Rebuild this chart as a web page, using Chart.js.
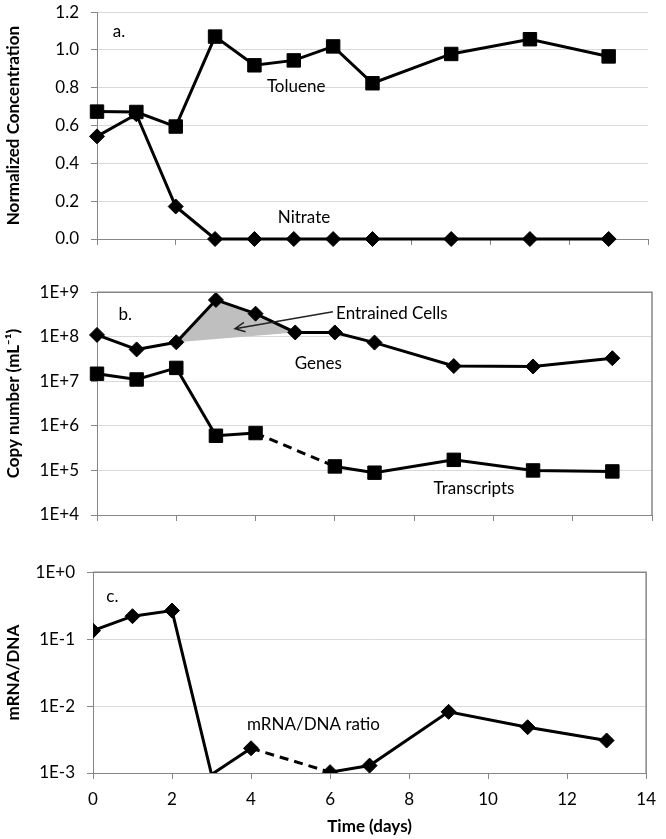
<!DOCTYPE html>
<html>
<head>
<meta charset="utf-8">
<script src="https://cdn.jsdelivr.net/npm/chart.js@4.4.1/dist/chart.umd.min.js"></script>
<style>
  html, body { margin: 0; padding: 0; background: #fff; overflow: hidden; }
  #wrap { position: relative; width: 666px; height: 839px; }
  canvas { position: absolute; left: 0; }
</style>
</head>
<body>
<div id="wrap">
  <canvas id="chartA" width="666" height="290" style="top:-10px"></canvas>
  <canvas id="chartB" width="666" height="280" style="top:270px"></canvas>
  <canvas id="chartC" width="666" height="289" style="top:550px"></canvas>
</div>
<script>
// sampling days
const days = [0, 1, 2, 3, 4, 5, 6, 7, 9, 11, 13];
const transcriptDays = [0, 1, 2, 3, 4, 6, 7, 9, 11, 13];

// a. normalized concentration
const toluene = [0.674, 0.672, 0.595, 1.071, 0.919, 0.945, 1.019, 0.824, 0.979, 1.057, 0.966];
const nitrate = [0.543, 0.66, 0.172, 0, 0, 0, 0, 0, 0, 0, 0];

// b. copy numbers (per mL)
const genes = [1.1e8, 5.2e7, 7.5e7, 6.7e8, 3.3e8, 1.25e8, 1.25e8, 7.4e7, 2.2e7, 2.15e7, 3.3e7];
const transcripts = [1.48e7, 1.1e7, 2.0e7, 6.0e5, 6.9e5, 1.23e5, 8.9e4, 1.73e5, 1.0e5, 9.5e4];
const entrainedDays = [2, 3, 4, 5];
const entrainedBaseDays = [2, 5];

// c. mRNA/DNA ratio
const ratio = [0.134, 0.22, 0.267, 0.00095, 0.00234, 0.00103, 0.00129, 0.0082, 0.00483, 0.00306];

// ticks
const xTicks = [0, 2, 4, 6, 8, 10, 12, 14];
const concTicks = [0, 0.2, 0.4, 0.6, 0.8, 1.0, 1.2];
const copyTicks = [1e4, 1e5, 1e6, 1e7, 1e8, 1e9];
const copyTickLabels = ['1E+4', '1E+5', '1E+6', '1E+7', '1E+8', '1E+9'];
const ratioTicks = [1e-3, 1e-2, 1e-1, 1];
const ratioTickLabels = ['1E-3', '1E-2', '1E-1', '1E+0'];

const FONT = 'Lato';
const AXIS = '#868686';
const GRID = '#d9d9d9';

const pts = (xs, ys) => xs.map((d, i) => ({x: d, y: ys[i]}));
const pick = (sel) => sel.map(d => ({x: d, y: genes[days.indexOf(d)]}));

const dashGap = {
  borderDash: ctx => (ctx.p0.parsed.x === 4 && ctx.p1.parsed.x === 6) ? [9, 6] : undefined
};

function line(data, style) {
  return {
    data: data,
    borderColor: '#000',
    backgroundColor: '#000',
    borderWidth: 3,
    pointStyle: style,
    pointRadius: style === 'rect' ? 9.5 : 7.5,
    pointHoverRadius: style === 'rect' ? 9.5 : 7.5,
    pointBackgroundColor: '#000',
    pointBorderColor: '#000',
    pointBorderWidth: 1,
    tension: 0,
    clip: false,
    fill: false
  };
}

function xScale(showLabels, height) {
  return {
    type: 'linear', min: 0, max: 14,
    afterBuildTicks: s => { s.ticks = xTicks.map(v => ({value: v})); },
    afterFit: s => { s.height = height; },
    grid: {drawOnChartArea: false, drawTicks: true, tickLength: 6, color: AXIS},
    border: {color: AXIS, width: 1},
    ticks: {display: showLabels, padding: 10, color: '#000', font: {family: FONT, size: 17}},
    title: {
      display: showLabels, text: 'Time (days)', color: '#000',
      font: {family: FONT, size: 17, weight: 'bold'}, padding: {top: 0, bottom: 2}
    }
  };
}

function yScale(width, title, extra) {
  return Object.assign({
    afterFit: s => { s.width = width; },
    grid: {color: GRID, tickColor: AXIS, tickLength: 6, drawTicks: true},
    border: {color: AXIS, width: 1},
    ticks: {padding: 12, color: '#000', font: {family: FONT, size: 17}},
    title: {
      display: true, text: title, color: '#000',
      font: {family: FONT, size: 17, weight: 'bold'}, padding: {top: 3, bottom: 0}
    }
  }, extra);
}

const notes = {
  id: 'notes',
  afterDatasetsDraw(chart, args, opts) {
    const {ctx, scales: {x, y}} = chart;
    ctx.save();
    ctx.font = '17px ' + FONT;
    ctx.fillStyle = '#000';
    ctx.textBaseline = 'middle';
    (opts.labels || []).forEach(l => {
      ctx.textAlign = l.align || 'center';
      ctx.fillText(l.text, x.getPixelForValue(l.x), y.getPixelForValue(l.y));
    });
    (opts.arrows || []).forEach(a => {
      const x0 = x.getPixelForValue(a.from[0]), y0 = y.getPixelForValue(a.from[1]);
      const x1 = x.getPixelForValue(a.to[0]), y1 = y.getPixelForValue(a.to[1]);
      const ang = Math.atan2(y1 - y0, x1 - x0);
      ctx.strokeStyle = '#222';
      ctx.lineWidth = 1.5;
      ctx.beginPath();
      ctx.moveTo(x0, y0);
      ctx.lineTo(x1, y1);
      ctx.moveTo(x1 - 11 * Math.cos(ang - 0.45), y1 - 11 * Math.sin(ang - 0.45));
      ctx.lineTo(x1, y1);
      ctx.lineTo(x1 - 11 * Math.cos(ang + 0.45), y1 - 11 * Math.sin(ang + 0.45));
      ctx.stroke();
    });
    if (opts.box) {
      const {top, right, bottom, left} = chart.chartArea;
      ctx.strokeStyle = AXIS;
      ctx.lineWidth = 1.5;
      ctx.beginPath();
      ctx.moveTo(left, top);
      ctx.lineTo(right, top);
      ctx.lineTo(right, bottom);
      ctx.stroke();
    }
    ctx.restore();
  }
};

// a.
const yA = yScale(97, 'Normalized Concentration', {
  min: 0, max: 1.2,
  afterBuildTicks: s => { s.ticks = concTicks.map(v => ({value: v})); }
});
yA.ticks.callback = v => v.toFixed(1);

new Chart(document.getElementById('chartA'), {
  type: 'line',
  data: {
    datasets: [
      line(pts(days, toluene), 'rect'),
      line(pts(days, nitrate), 'rectRot')
    ]
  },
  options: {
    responsive: false, animation: false,
    layout: {padding: {top: 17, right: 18, bottom: 0, left: 0}},
    scales: {x: xScale(false, 41), y: yA},
    plugins: {
      legend: {display: false}, tooltip: {enabled: false},
      notes: {labels: [
        {text: 'a.', x: 0.56, y: 1.1},
        {text: 'Toluene', x: 5.06, y: 0.807},
        {text: 'Nitrate', x: 5.26, y: 0.114}
      ]}
    }
  },
  plugins: [notes]
});

// b.
const yB = yScale(97, 'Copy number (mL⁻¹)', {
  type: 'logarithmic', min: 1e4, max: 1e9,
  afterBuildTicks: s => { s.ticks = copyTicks.map(v => ({value: v})); }
});
yB.ticks.callback = v => copyTickLabels[copyTicks.indexOf(v)];

new Chart(document.getElementById('chartB'), {
  type: 'line',
  data: {
    datasets: [
      line(pts(days, genes), 'rectRot'),
      Object.assign(line(pts(transcriptDays, transcripts), 'rect'), {segment: dashGap}),
      {
        data: pick(entrainedDays), borderWidth: 0, pointRadius: 0, pointHoverRadius: 0,
        backgroundColor: '#bfbfbf', fill: 3
      },
      {
        data: pick(entrainedBaseDays), borderWidth: 0, pointRadius: 0, pointHoverRadius: 0,
        fill: false
      }
    ]
  },
  options: {
    responsive: false, animation: false,
    layout: {padding: {top: 20, right: 14, bottom: 0, left: 0}},
    scales: {x: xScale(false, 35), y: yB},
    plugins: {
      legend: {display: false}, tooltip: {enabled: false},
      notes: {
        box: true,
        labels: [
          {text: 'b.', x: 0.71, y: Math.pow(10, 8.51)},
          {text: 'Entrained Cells', x: 6.03, y: Math.pow(10, 8.53), align: 'left'},
          {text: 'Genes', x: 5.58, y: Math.pow(10, 7.4)},
          {text: 'Transcripts', x: 9.51, y: Math.pow(10, 4.6)}
        ],
        arrows: [{from: [5.95, Math.pow(10, 8.56)], to: [3.48, Math.pow(10, 8.18)]}]
      }
    }
  },
  plugins: [notes]
});

// c.
const yC = yScale(93, 'mRNA/DNA', {
  type: 'logarithmic', min: 1e-3, max: 1,
  afterBuildTicks: s => { s.ticks = ratioTicks.map(v => ({value: v})); }
});
yC.ticks.callback = v => ratioTickLabels[ratioTicks.indexOf(v)];

const ratioSet = Object.assign(line(pts(transcriptDays, ratio), 'rectRot'), {segment: dashGap, clip: 0});
ratioSet.pointRadius = ctx => ctx.parsed && ctx.parsed.y < 1e-3 ? 0 : 7.5;

new Chart(document.getElementById('chartC'), {
  type: 'line',
  data: {datasets: [ratioSet]},
  options: {
    responsive: false, animation: false,
    layout: {padding: {top: 17, right: 13, bottom: 0, left: 0}},
    scales: {x: xScale(true, 66), y: yC},
    plugins: {
      legend: {display: false}, tooltip: {enabled: false},
      notes: {
        box: true,
        labels: [
          {text: 'c.', x: 0.49, y: Math.pow(10, -0.36)},
          {text: 'mRNA/DNA ratio', x: 5.58, y: Math.pow(10, -2.27)}
        ]
      }
    }
  },
  plugins: [notes]
});
</script>
</body>
</html>
